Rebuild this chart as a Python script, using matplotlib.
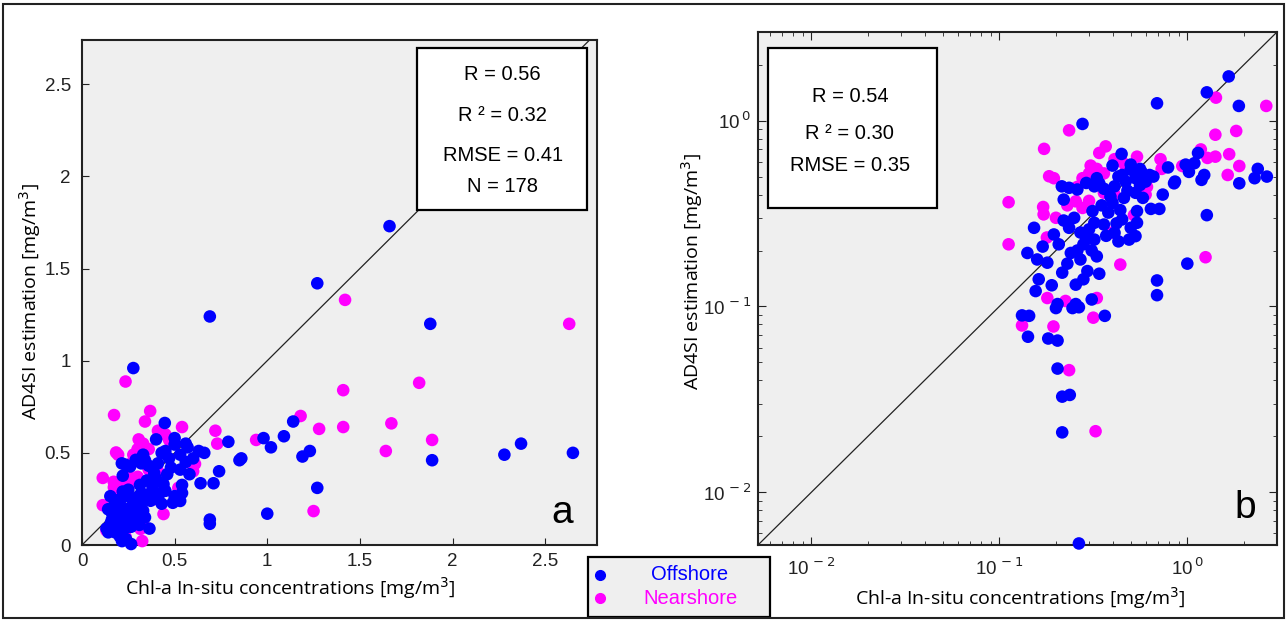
import matplotlib
matplotlib.use("Agg")
import matplotlib.pyplot as plt
import numpy as np
from matplotlib.patches import Rectangle
from matplotlib.lines import Line2D
from matplotlib.ticker import FixedLocator, FuncFormatter

# Chl-a in-situ (x) vs AD4SI estimation (y), mg/m3 -- same matchups in both panels
offshore_x = [1.66, 1.27, 0.69, 1.88, 1.14, 0.98, 1.09, 1.02, 1.23, 0.79, 0.86, 1.89,
              2.37, 2.28, 2.65, 0.56, 0.57, 0.63, 0.53, 0.60, 0.85, 1.19, 0.74, 0.58,
              0.64, 0.71, 0.54, 1.27, 0.53, 1.00, 0.69, 0.69, 0.277, 0.447, 0.40, 0.45,
              0.50, 0.33, 0.215, 0.235, 0.34, 0.50, 0.41, 0.153, 0.22, 0.235, 0.195, 0.207,
              0.141, 0.159, 0.18, 0.216, 0.162, 0.156, 0.255, 0.294, 0.24, 0.27, 0.33, 0.28,
              0.32, 0.36, 0.41, 0.313, 0.32, 0.45, 0.50, 0.43, 0.49, 0.54, 0.46, 0.53,
              0.32, 0.26, 0.29, 0.204, 0.255, 0.31, 0.132, 0.144, 0.142, 0.182, 0.204, 0.20,
              0.245, 0.265, 0.364, 0.204, 0.216, 0.237, 0.216, 0.265,
              0.25, 0.27, 0.30, 0.29, 0.38, 0.40, 0.35, 0.44, 0.37, 0.26, 0.23, 0.19,
              0.47, 0.39, 0.42, 0.28, 0.34, 0.22, 0.17, 0.31, 0.36, 0.48, 0.43, 0.56, 0.66]
offshore_y = [1.73, 1.42, 1.24, 1.20, 0.67, 0.58, 0.59, 0.53, 0.51, 0.56, 0.47, 0.46,
              0.55, 0.49, 0.50, 0.55, 0.53, 0.51, 0.49, 0.47, 0.46, 0.48, 0.40, 0.384,
              0.335, 0.335, 0.326, 0.31, 0.239, 0.17, 0.138, 0.115, 0.96, 0.662, 0.573, 0.51,
              0.58, 0.49, 0.443, 0.435, 0.46, 0.545, 0.443, 0.265, 0.376, 0.265, 0.244, 0.216,
              0.194, 0.179, 0.172, 0.152, 0.14, 0.121, 0.131, 0.155, 0.194, 0.179, 0.186, 0.216,
              0.229, 0.276, 0.249, 0.326, 0.282, 0.294, 0.265, 0.224, 0.229, 0.282, 0.384, 0.409,
              0.443, 0.426, 0.462, 0.103, 0.103, 0.109, 0.0895, 0.089, 0.0687, 0.0672, 0.0655, 0.098,
              0.098, 0.099, 0.089, 0.0463, 0.0327, 0.0334, 0.021, 0.0053,
              0.30, 0.25, 0.26, 0.23, 0.32, 0.36, 0.35, 0.33, 0.24, 0.20, 0.17, 0.13,
              0.47, 0.39, 0.28, 0.14, 0.15, 0.29, 0.21, 0.20, 0.43, 0.42, 0.50, 0.45, 0.50]

nearshore_x = [1.42, 2.63, 1.41, 1.82, 1.18, 1.41, 1.67, 1.89, 1.28, 0.72, 0.54, 0.94,
               1.64, 0.61, 1.25, 0.235, 0.173, 0.368, 0.34, 0.306, 0.184, 0.195, 0.277, 0.41,
               0.36, 0.112, 0.171, 0.172, 0.112, 0.179, 0.277, 0.255, 0.36, 0.41, 0.44, 0.18,
               0.225, 0.33, 0.132, 0.194, 0.316, 0.235, 0.325,
               0.60, 0.73, 0.52, 0.39, 0.30, 0.23, 0.47, 0.20, 0.26, 0.33, 0.45, 0.30]
nearshore_y = [1.33, 1.20, 0.84, 0.88, 0.70, 0.64, 0.66, 0.57, 0.63, 0.62, 0.64, 0.57,
               0.51, 0.44, 0.184, 0.887, 0.705, 0.727, 0.67, 0.573, 0.502, 0.49, 0.49, 0.62,
               0.52, 0.364, 0.343, 0.313, 0.216, 0.235, 0.339, 0.368, 0.409, 0.40, 0.168, 0.111,
               0.107, 0.111, 0.079, 0.078, 0.087, 0.0454, 0.0213,
               0.40, 0.55, 0.31, 0.249, 0.37, 0.35, 0.57, 0.30, 0.44, 0.55, 0.60, 0.52]

stats_a = ["R = 0.56", "R ² = 0.32", "RMSE = 0.41", "N = 178"]
stats_b = ["R = 0.54", "R ² = 0.30", "RMSE = 0.35"]
lin_ticks = [0, 0.5, 1, 1.5, 2, 2.5]
lin_labels = ["0", "0.5", "1", "1.5", "2", "2.5"]
log_ticks = [0.01, 0.1, 1]

BLUE = "#0000ff"
MAGENTA = "#ff00ff"
BG = "#efefef"
W, H = 1287, 621


def px_axes(left, top, right, bottom):
    return [left / W, (H - bottom) / H, (right - left) / W, (bottom - top) / H]


fig = plt.figure(figsize=(W / 100, H / 100), dpi=100)
plt.rcParams["font.family"] = ["Liberation Sans", "DejaVu Sans"]

ax_a = fig.add_axes(px_axes(82, 40, 597, 545))
ax_b = fig.add_axes(px_axes(758, 32, 1277, 545))

for ax in (ax_a, ax_b):
    ax.set_facecolor(BG)
    for sp in ax.spines.values():
        sp.set_linewidth(1.5)
        sp.set_color("#222222")
    ax.scatter(nearshore_x, nearshore_y, s=82, color=MAGENTA, edgecolors="none",
               zorder=3, clip_on=False)
    ax.scatter(offshore_x, offshore_y, s=82, color=BLUE, edgecolors="none",
               zorder=4, clip_on=False)

# panel a: linear
ax_a.set_xlim(0, 2.78)
ax_a.set_ylim(0, 2.74)
ax_a.plot([0, 2.74], [0, 2.74], color="#222222", lw=0.9, zorder=2)
ax_a.xaxis.set_major_locator(FixedLocator(lin_ticks))
ax_a.yaxis.set_major_locator(FixedLocator(lin_ticks))
ax_a.set_xticklabels(lin_labels)
ax_a.set_yticklabels(lin_labels)
ax_a.tick_params(direction="in", length=5, width=0.8, labelsize=13.5, colors="#222222")
ax_a.tick_params(axis="x", pad=6)
ax_a.tick_params(axis="y", pad=8)

# panel b: log
lo, hi = 0.0052, 3.0
ax_b.set_xscale("log")
ax_b.set_yscale("log")
ax_b.set_xlim(lo, hi)
ax_b.set_ylim(lo, hi)
ax_b.plot([lo, hi], [lo, hi], color="#222222", lw=0.9, zorder=2)
ax_b.xaxis.set_major_locator(FixedLocator(log_ticks))
ax_b.yaxis.set_major_locator(FixedLocator(log_ticks))
fmt = FuncFormatter(lambda v, pos: r"10$^{\,%d}$" % int(round(np.log10(v))))
ax_b.xaxis.set_major_formatter(fmt)
ax_b.yaxis.set_major_formatter(fmt)
ax_b.tick_params(which="both", direction="in", top=True, right=True, colors="#222222")
ax_b.tick_params(which="major", length=6, width=0.8, labelsize=13.5)
ax_b.tick_params(axis="x", which="major", pad=9)
ax_b.tick_params(axis="y", which="major", pad=5)
ax_b.tick_params(which="minor", length=3, width=0.6)

# stats boxes
def stats_box(ax, x0, y0, x1, y1, lines, cx, ys):
    ax.add_patch(Rectangle((x0, y0), x1 - x0, y1 - y0, transform=ax.transAxes,
                           facecolor="white", edgecolor="black", lw=1.6, zorder=6))
    for txt, y in zip(lines, ys):
        ax.text(cx, y, txt, transform=ax.transAxes, ha="center", va="center",
                fontsize=14.5, zorder=7)


stats_box(ax_a, 0.650, 0.663, 0.981, 0.984, stats_a, 0.817, [0.931, 0.851, 0.772, 0.709])
stats_box(ax_b, 0.019, 0.657, 0.345, 0.969, stats_b, 0.177, [0.875, 0.803, 0.739])

ax_a.text(0.932, 0.064, "a", transform=ax_a.transAxes, ha="center", va="center",
          fontsize=28, zorder=7)
ax_b.text(0.938, 0.072, "b", transform=ax_b.transAxes, ha="center", va="center",
          fontsize=28, zorder=7)

# axis labels
lab = dict(fontsize=14, family=["Open Sans", "DejaVu Sans"], ha="center", va="center")
fig.text(290 / W, 1 - 588 / H, "Chl-a In-situ concentrations [mg/m$^3$]", **lab)
fig.text(1020 / W, 1 - 598 / H, "Chl-a In-situ concentrations [mg/m$^3$]", **lab)
fig.text(30 / W, 1 - 302 / H, "AD4SI estimation [mg/m$^3$]", rotation=90, **lab)
fig.text(692 / W, 1 - 272 / H, "AD4SI estimation [mg/m$^3$]", rotation=90, **lab)

# legend box
fig.add_artist(Rectangle((588 / W, 1 - 617 / H), 182 / W, 60 / H, transform=fig.transFigure,
                         facecolor=BG, edgecolor="black", lw=1.6))
for y, name, c in [(575, "Offshore", BLUE), (598, "Nearshore", MAGENTA)]:
    fig.add_artist(Line2D([600 / W], [1 - y / H], marker="o", markersize=7, color=c,
                          linestyle="none", transform=fig.transFigure))
    fig.text(690 / W, 1 - y / H, name, color=c, fontsize=14.5, ha="center", va="center")

# outer frame
fig.add_artist(Rectangle((3 / W, 3 / H), (W - 6) / W, (H - 7) / H, transform=fig.transFigure,
                         facecolor="none", edgecolor="#222222", lw=1.5))

fig.savefig("out.png", dpi=100)
